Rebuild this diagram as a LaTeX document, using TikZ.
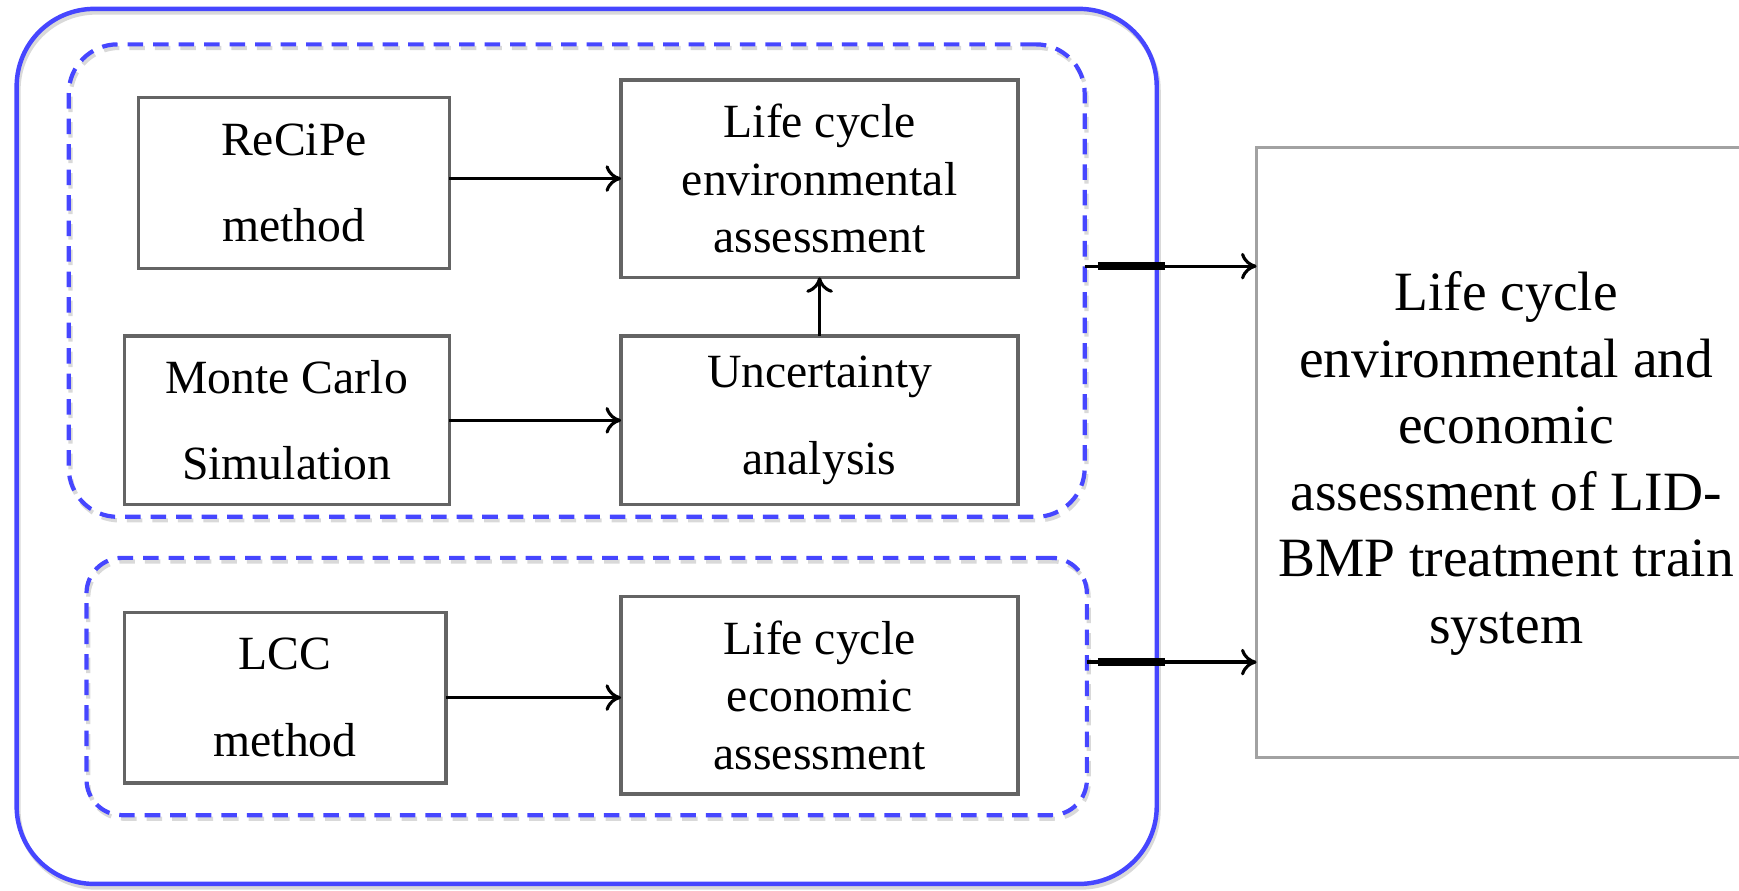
\documentclass[tikz,border=0pt]{standalone}
\usepackage{fontspec}
\setmainfont{Liberation Serif}
\usetikzlibrary{arrows.meta}
\definecolor{grpblue}{RGB}{70,70,255}
\definecolor{boxgray}{RGB}{100,100,100}
\begin{document}
\begin{tikzpicture}[x=0.5pt,y=-0.5pt,
  every node/.style={inner sep=0pt, outer sep=0pt},
  stepbox/.style={draw=boxgray, line width=1.5pt, align=center,
    font=\fontsize{21.5}{39}\selectfont},
  tallbox/.style={stepbox, font=\fontsize{21.5}{26}\selectfont},
  grpshadow/.style={preaction={draw=black!15,
    transform canvas={shift={(0.8pt,-1.6pt)}}}},
  outergrp/.style={draw=grpblue, line width=2pt, rounded corners=35pt},
  dashgrp/.style={draw=grpblue, line width=1.9pt, dash pattern=on 7pt off 4.5pt},
  flow/.style={-{To[length=7pt,width=12pt,line width=1.4pt]}, line width=1.5pt},
  joint/.style={line width=3.5pt},
]
\useasboundingbox (0,0) rectangle (1568,803);

% grouping frames
\node[outergrp, grpshadow, minimum width=514pt, minimum height=394.5pt] (outer) at (529,402.5) {};
\node[dashgrp, grpshadow, rounded corners=22pt, minimum width=458pt, minimum height=213pt] (envgrp) at (520,253) {};
\node[dashgrp, grpshadow, rounded corners=16pt, minimum width=451pt, minimum height=116pt] (ecogrp) at (529,619) {};

% method and assessment boxes
\node[stepbox, minimum width=140pt, minimum height=77pt] (recipe) at (265,165) {ReCiPe\\method};
\node[tallbox, minimum width=179pt, minimum height=89pt] (lcenv) at (739,161) {Life cycle\\environmental\\assessment};
\node[stepbox, minimum width=146.5pt, minimum height=76pt] (mc) at (258.5,379) {Monte Carlo\\Simulation};
\node[stepbox, minimum width=179pt, minimum height=76pt] (unc) at (739,379) {Uncertainty\\analysis};
\node[stepbox, minimum width=145pt, minimum height=77pt] (lcc) at (257,629) {LCC\\method};
\node[tallbox, minimum width=179pt, minimum height=89pt] (lcecon) at (739,627) {Life cycle\\economic\\assessment};

% combined result
\node[draw=boxgray!60, line width=1.5pt,
  minimum width=225pt, minimum height=275pt,
  label={[yshift=-5pt, align=center, font=\fontsize{25}{30}\selectfont]center:{Life cycle\\environmental and\\economic\\assessment of LID-\\BMP treatment train\\system}}]
  (result) at (1358,408) {};

% internal flows
\coordinate (r1) at (recipe.east |- 0,161);
\draw[flow] (r1) -- (r1 -| lcenv.west);
\draw[flow] (mc.east) -- (unc.west);
\draw[flow] (lcc.east) -- (lcc.east -| lcecon.west);
\draw[flow] (unc.north) -- (lcenv.south);

% outputs to the combined assessment
\coordinate (o1) at (envgrp.east |- 0,240);
\coordinate (o2) at (ecogrp.east |- 0,597);
\draw[flow] (o1) -- (o1 -| result.west);
\draw[flow] (o2) -- (o2 -| result.west);
\coordinate (j1a) at (990,240);
\coordinate (j1b) at (1050,240);
\coordinate (j2a) at (990,597);
\coordinate (j2b) at (1050,597);
\draw[joint] (j1a) -- (j1b);
\draw[joint] (j2a) -- (j2b);
\end{tikzpicture}
\end{document}
